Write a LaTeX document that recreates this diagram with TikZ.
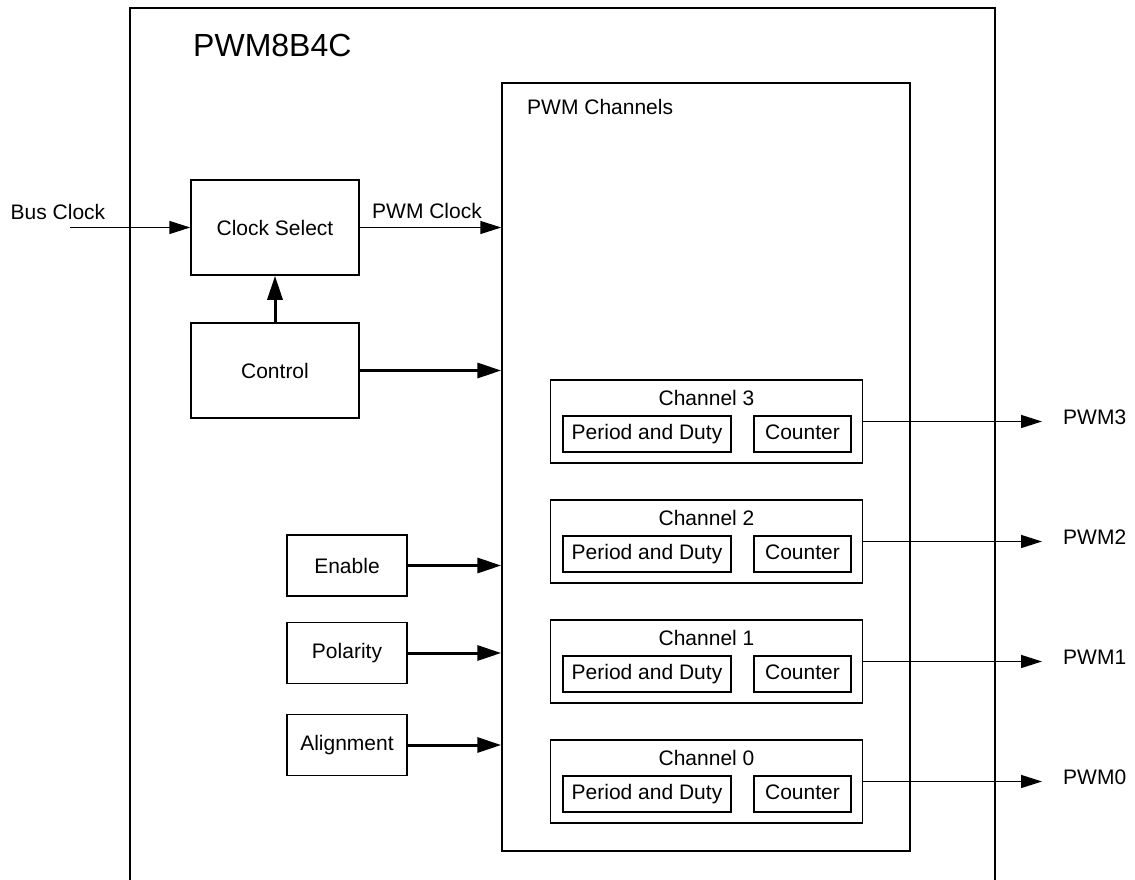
\documentclass[tikz,border=0pt]{standalone}
\usepackage{fontspec}
\setmainfont{Liberation Sans}
\usetikzlibrary{arrows.meta}

\begin{document}
\begin{tikzpicture}[x=1pt, y=-1pt,
  font=\fontsize{21}{25}\selectfont,
  box/.style={draw, line width=1.5pt, inner sep=0pt},
  inbox/.style={box, minimum height=36pt, text height=15pt, text depth=4.5pt},
  lbl/.style={inner sep=0pt},
  sig/.style={line width=1.5pt, -{Triangle[length=21pt, width=13pt]}},
  bus/.style={line width=3pt, -{Triangle[length=24pt, width=15pt]}}]

% --- Рамка страницы ---
\useasboundingbox (0,0) rectangle (1135,880);

% --- Параметры ---
\def\chx{706.5}   % центр каналов по x
\def\inx{347}     % центр входных блоков по x

% --- Внешний блок ---
\node[box, minimum width=865pt, minimum height=884pt] (pwmblock) at (562.5,450) {};
\node[lbl, anchor=west, font=\fontsize{32}{38}\selectfont] (title) at (193,45) {PWM8B4C};

% --- Блок каналов ---
\node[box, minimum width=408pt, minimum height=768pt] (channels) at (706,467) {};
\node[lbl, anchor=west] (chlabel) at (527,107) {PWM Channels};

% --- Тактирование и управление ---
\node[box, minimum width=168pt, minimum height=95pt] (clksel) at (275,227.5) {Clock Select};
\node[box, minimum width=168pt, minimum height=95pt] (ctrl) at (275,370.5) {Control};

\coordinate (busin) at (70,227.5);
\node[lbl] (buslbl) at (58,212) {Bus Clock};
\node[lbl] (pwmclklbl) at (427,211) {PWM Clock};

\draw[sig] (busin) -- (clksel.west);
\draw[sig] (clksel.east) -- (clksel.east -| channels.west);
\draw[bus] (ctrl.north) -- (clksel.south);
\draw[bus] (ctrl.east) -- (ctrl.east -| channels.west);

% --- Входные блоки ---
\foreach \name/\lab/\y in {en/Enable/565.5, pol/Polarity/653, align/Alignment/745} {
  \node[box, minimum width=120pt, minimum height=61pt] (\name) at (\inx,\y) {\lab};
  \draw[bus] (\name.east) -- (\name.east -| channels.west);
}

% --- Каналы 3..0 ---
\foreach \n/\y in {3/380, 2/500, 1/620, 0/740} {
  \node[box, minimum width=312pt, minimum height=83pt] (ch\n) at (\chx,\y+41.5) {};
  \node[lbl] (chname\n) at (\chx,\y+18) {Channel \n};
  \node[inbox, minimum width=168pt] (per\n) at (647,\y+54) {Period and Duty};
  \node[inbox, minimum width=97pt] (cnt\n) at (802.5,\y+54) {Counter};
  % выход
  \coordinate (out\n) at (1042,\y+41.5);
  \draw[sig] (ch\n.east) -- (out\n);
  \node[lbl, anchor=west] (pwmout\n) at (1063,\y+37) {PWM\n};
}

\end{tikzpicture}
\end{document}
